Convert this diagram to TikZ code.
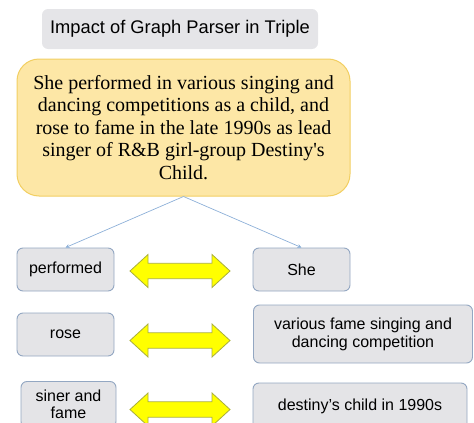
\documentclass[tikz,border=0pt]{standalone}
\usepackage{fontspec}
\setmainfont{Liberation Serif}
\setsansfont{Liberation Sans}
\usetikzlibrary{arrows.meta}
\definecolor{boxgray}{HTML}{E4E4E7}
\definecolor{boxedge}{HTML}{93A7C2}
\definecolor{titlegray}{HTML}{E5E5E8}
\definecolor{yelfill}{HTML}{FDE7A6}
\definecolor{yeledge}{HTML}{F2CF62}
\definecolor{linkblue}{HTML}{8DB0D8}
\definecolor{arrfill}{HTML}{FFFF00}
\definecolor{arredge}{HTML}{A9AE3C}
\tikzset{
  term/.style={draw=boxedge, fill=boxgray, rounded corners=6pt, line width=0.9pt,
    font=\sffamily\fontsize{16}{18}\selectfont, align=center, inner sep=2pt},
  link/.style={draw=linkblue, line width=0.7pt, -{Stealth[length=4pt,width=4pt]}},
  dblarrow/.style={fill=arrfill, draw=arredge, line width=0.8pt, line join=miter}
}
\newcommand{\yarrow}[1]{%
  \draw[dblarrow] (130,#1) -- (148,#1-16.5) -- (148,#1-7.7) -- (212,#1-7.7) -- (212,#1-16.5)
    -- (230,#1) -- (212,#1+16.5) -- (212,#1+7.7) -- (148,#1+7.7) -- (148,#1+16.5) -- cycle;}
\begin{document}
\begin{tikzpicture}[x=1pt,y=-1pt]
\useasboundingbox (0,0) rectangle (474,423);
\clip (0,0) rectangle (474,423);
\node[fill=titlegray, rounded corners=6pt, minimum width=276pt, minimum height=40pt,
  font=\sffamily\fontsize{18.3}{21}\selectfont] (title) at (180,29) {Impact of Graph Parser in Triple};
\node[draw=yeledge, fill=yelfill, line width=1pt, rounded corners=22pt,
  minimum width=333pt, minimum height=137pt, align=center,
  font=\rmfamily\fontsize{20}{22.5}\selectfont] (sent) at (183.5,127.5)
  {She performed in various singing and\\dancing competitions as a child, and\\rose to fame in the late 1990s as lead\\singer of R\&B girl-group Destiny\textquotesingle s\\Child.};
\node[term, minimum width=97pt, minimum height=43pt] (perf) at (65.5,269.5) {performed};
\node[term, minimum width=97pt, minimum height=43pt] (she) at (301.5,269.5) {She};
\node[term, minimum width=97pt, minimum height=43pt] (rose) at (65.5,334.5) {rose};
\node[term, minimum width=219pt, minimum height=58pt] (vari) at (363,334) {various fame singing and\\dancing competition};
\node[term, minimum width=95pt, minimum height=46pt, font=\sffamily\fontsize{16}{16.5}\selectfont] (siner) at (68.5,404.5) {siner and\\fame};
\node[term, minimum width=214pt, minimum height=46pt] (dest) at (360,406) {destiny's child in 1990s};
\draw[link] (sent.south) -- (perf.north);
\draw[link] (sent.south) -- (she.north);
\yarrow{271}
\yarrow{340.5}
\yarrow{409.5}
\end{tikzpicture}
\end{document}
